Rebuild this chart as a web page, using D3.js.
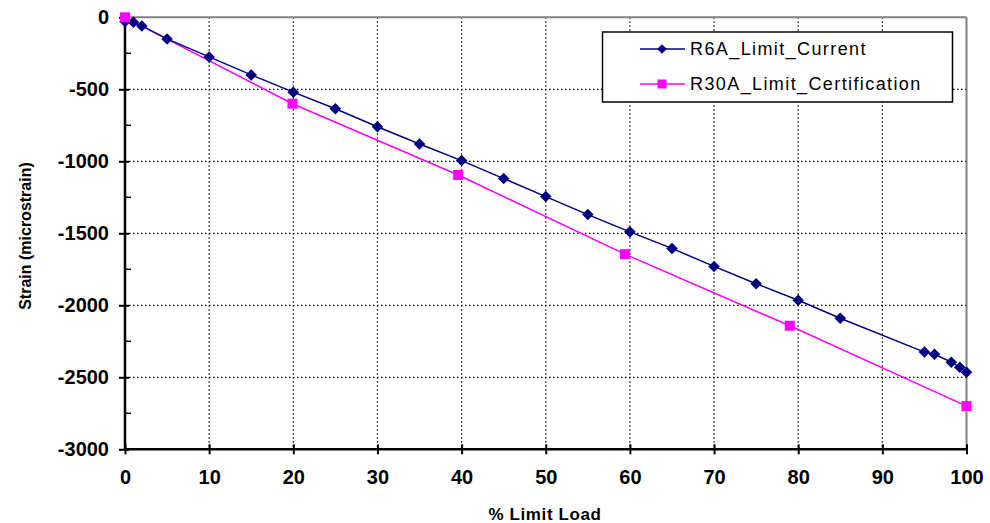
<!DOCTYPE html>
<html><head><meta charset="utf-8">
<script src="https://cdn.jsdelivr.net/npm/d3@7"></script>
<style>body{margin:0;background:#fff;} svg{display:block;}</style>
</head><body>
<svg id="c" width="990" height="523"></svg>
<script>
const r6aX = [0, 1, 2, 5, 10, 15, 20, 25, 30, 35, 40, 45, 50, 55, 60, 65, 70, 75, 80, 85, 95, 96.2, 98.2, 99.2, 100];
const r6aY = [-30, -35, -60, -150, -275, -400, -520, -635, -760, -880, -995, -1120, -1245, -1370, -1490, -1605, -1730, -1850, -1965, -2090, -2325, -2340, -2395, -2430, -2465];
const r30aX = [0, 19.9, 39.6, 59.4, 79, 100];
const r30aY = [0, -600, -1095, -1645, -2142, -2700];
const xTicks = [0, 10, 20, 30, 40, 50, 60, 70, 80, 90, 100];
const yTicks = [0, -500, -1000, -1500, -2000, -2500, -3000];
const seriesNames = ["R6A_Limit_Current", "R30A_Limit_Certification"];

const svg = d3.select("#c");
const L = 125, R = 966.5, T = 17.3, B = 449.3;
const x = d3.scaleLinear().domain([0, 100]).range([L, R]);
const y = d3.scaleLinear().domain([-3000, 0]).range([B, T]);
const FONT = "Arial, 'Liberation Sans', sans-serif";

// gridlines
const g = svg.append("g");
xTicks.slice(1, -1).forEach(v => g.append("line").attr("x1", x(v)).attr("x2", x(v)).attr("y1", T).attr("y2", B)
  .attr("stroke", "#000").attr("stroke-width", 1.2).attr("stroke-dasharray", "1.5,2.5"));
yTicks.slice(1, -1).forEach(v => g.append("line").attr("x1", L).attr("x2", R).attr("y1", y(v)).attr("y2", y(v))
  .attr("stroke", "#000").attr("stroke-width", 1.2).attr("stroke-dasharray", "1.5,2.5"));
// top and right borders
g.append("line").attr("x1", L).attr("x2", R).attr("y1", T).attr("y2", T).attr("stroke", "#808080").attr("stroke-width", 2);
g.append("line").attr("x1", R).attr("x2", R).attr("y1", T).attr("y2", B).attr("stroke", "#808080").attr("stroke-width", 2);

// axes
const xAxis = d3.axisBottom(x).tickValues(xTicks).tickSize(5).tickSizeOuter(0).tickFormat(d => String(d));
const xa = svg.append("g").attr("transform", `translate(0,${B})`).call(xAxis);
xa.select(".domain").attr("stroke", "#000").attr("stroke-width", 2.5).attr("d", `M${L},0H${R}`);
xa.selectAll(".tick line").attr("stroke", "#000").attr("stroke-width", 2).attr("y1", -5).attr("y2", 5);
xa.selectAll(".tick text").attr("y", 21).attr("dy", "0.71em").attr("font-family", FONT)
  .attr("font-weight", "bold").attr("font-size", 20).attr("fill", "#000");

const yAxis = d3.axisLeft(y).tickValues(yTicks).tickSize(6).tickSizeOuter(0).tickFormat(d => String(d));
const ya = svg.append("g").attr("transform", `translate(${L},0)`).call(yAxis);
ya.select(".domain").attr("stroke", "#000").attr("stroke-width", 2.5).attr("d", `M0,${T}V${B}`);
ya.selectAll(".tick line").attr("stroke", "#000").attr("stroke-width", 2).attr("x1", -6).attr("x2", 4);
ya.selectAll(".tick text").attr("x", -16).attr("font-family", FONT)
  .attr("font-weight", "bold").attr("font-size", 20).attr("fill", "#000");
// minor y ticks
d3.range(-2750, 0, 500).forEach(v => svg.append("line").attr("x1", L).attr("x2", L + 6).attr("y1", y(v)).attr("y2", y(v))
  .attr("stroke", "#000").attr("stroke-width", 1.5));

// axis titles
svg.append("text").attr("x", 545).attr("y", 520).attr("text-anchor", "middle").attr("letter-spacing", 0.6)
  .attr("font-family", FONT).attr("font-weight", "bold").attr("font-size", 17).text("% Limit Load");
svg.append("text").attr("transform", "translate(31,236) rotate(-90)").attr("text-anchor", "middle")
  .attr("font-family", FONT).attr("font-weight", "bold").attr("font-size", 16).text("Strain (microstrain)");

// series
const navy = "#000080", mag = "#FF00FF";
const line = d3.line().x(d => x(d[0])).y(d => y(d[1]));
const s2 = r30aX.map((v, i) => [v, r30aY[i]]);
const s1 = r6aX.map((v, i) => [v, r6aY[i]]);
svg.append("path").datum(s2).attr("d", line).attr("fill", "none").attr("stroke", mag).attr("stroke-width", 1.5);
svg.append("path").datum(s1).attr("d", line).attr("fill", "none").attr("stroke", navy).attr("stroke-width", 1.5);
const diamond = d3.symbol().type(d3.symbolDiamond2).size(85);
svg.selectAll(".d").data(s1).enter().append("path").attr("d", diamond)
  .attr("transform", d => `translate(${x(d[0])},${y(d[1])})`).attr("fill", navy);
svg.selectAll(".s").data(s2).enter().append("rect")
  .attr("x", d => x(d[0]) - 5).attr("y", d => y(d[1]) - 5).attr("width", 10).attr("height", 10).attr("fill", mag);

// legend
const lg = svg.append("g");
lg.append("rect").attr("x", 602.5).attr("y", 32).attr("width", 350).attr("height", 70).attr("fill", "#fff").attr("stroke", "#000").attr("stroke-width", 1.5);
const rows = [{n: seriesNames[0], c: navy, t: "d", yy: 49}, {n: seriesNames[1], c: mag, t: "s", yy: 84}];
rows.forEach(r => {
  lg.append("line").attr("x1", 640).attr("x2", 685).attr("y1", r.yy).attr("y2", r.yy).attr("stroke", r.c).attr("stroke-width", 1.5);
  if (r.t === "d") lg.append("path").attr("d", d3.symbol().type(d3.symbolDiamond2).size(60)).attr("transform", `translate(662,${r.yy})`).attr("fill", r.c);
  else lg.append("rect").attr("x", 657.5).attr("y", r.yy - 4.5).attr("width", 9).attr("height", 9).attr("fill", r.c);
  lg.append("text").attr("x", 690).attr("y", r.yy).attr("dy", "0.36em").attr("font-family", FONT).attr("letter-spacing", 1.4)
    .attr("font-size", 18).attr("fill", "#000").text(r.n);
});
</script>
</body></html>
